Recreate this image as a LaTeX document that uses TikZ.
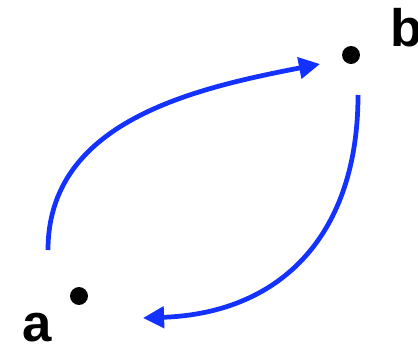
\documentclass[tikz,border=0pt]{standalone}
\usepackage{fontspec}
\setmainfont{Liberation Sans}
\definecolor{azulflecha}{RGB}{20,50,255}
\usetikzlibrary{arrows.meta}

\begin{document}
\begin{tikzpicture}[
  x=0.02cm, y=-0.02cm,
  punto/.style={
    circle, fill=black, inner sep=0pt,
    minimum size=10.2pt},
  etiqueta/.style={
    font=\fontsize{30}{36}\selectfont\bfseries,
    inner sep=0pt, anchor=base},
  flecha/.style={
    draw=azulflecha, line width=2.7pt,
    -{Triangle[length=12pt,width=12pt]}}
]
  \useasboundingbox (0,0) rectangle (418,344);

  %% ── Puntos ────────────────────────────────────────────────
  \node[punto](a) at (79,296) {};
  \node[punto](b) at (351,55) {};

  \node[etiqueta](la) at (37,341) {a};
  \node[etiqueta](lb) at (407,47) {b};

  %% ── Extremos de las flechas ───────────────────────────────
  \coordinate (salidaA) at (48,250);
  \coordinate (llegadaB) at (320,64);
  \coordinate (salidaB) at (358,95);
  \coordinate (llegadaA) at (143,318);

  %% ── a → b: arco por arriba ────────────────────────────────
  \draw[flecha] (salidaA) to[out=90, in=191] (llegadaB);

  %% ── b → a: arco por abajo ─────────────────────────────────
  \draw[flecha] (salidaB) to[out=-90, in=2, looseness=1.15] (llegadaA);

\end{tikzpicture}
\end{document}
